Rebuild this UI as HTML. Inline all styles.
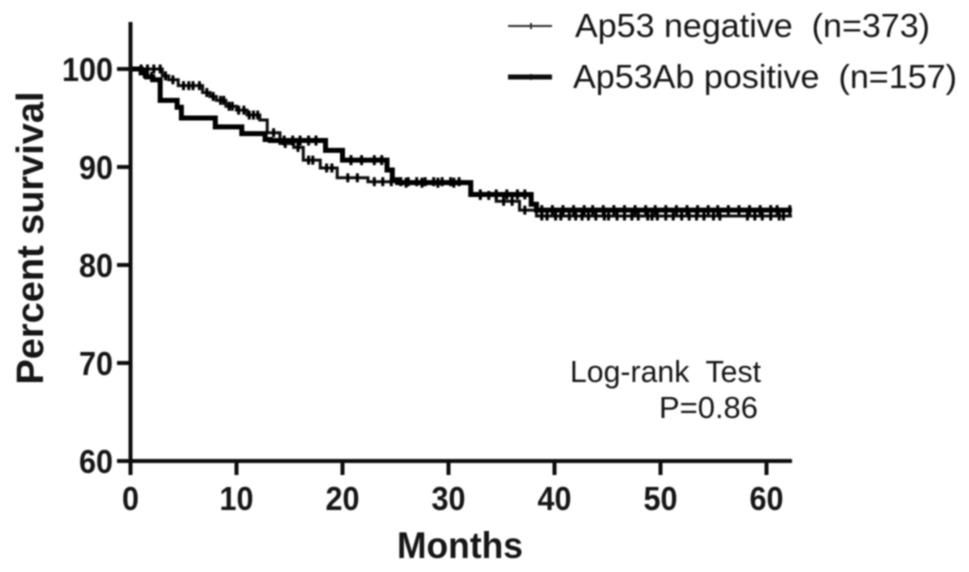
<!DOCTYPE html>
<html>
<head>
<meta charset="utf-8">
<title>Survival chart</title>
<style>
html,body{margin:0;padding:0;background:#fff;width:969px;height:572px;overflow:hidden}
svg{display:block}
text{font-family:"Liberation Sans",sans-serif;fill:#161616}
.b{font-weight:bold}
</style>
</head>
<body>
<svg id="chart" width="969" height="572" viewBox="0 0 969 572" xmlns="http://www.w3.org/2000/svg">
<defs><filter id="soft" x="-5%" y="-5%" width="110%" height="110%"><feGaussianBlur stdDeviation="0.8"/></filter></defs>
<g id="root" filter="url(#soft)">
<g id="marks"></g>
<g id="axes"></g>
<text class="b" x="460" y="558" font-size="37" text-anchor="middle" textLength="126" lengthAdjust="spacingAndGlyphs">Months</text>
<text class="b" transform="translate(43,238) rotate(-90)" font-size="38" text-anchor="middle" textLength="293" lengthAdjust="spacingAndGlyphs">Percent survival</text>
<g>
<line x1="508" y1="26" x2="552" y2="26" stroke="#333" stroke-width="2"/>
<line x1="531" y1="23" x2="531" y2="29" stroke="#333" stroke-width="2"/>
<text x="575" y="37" font-size="33" textLength="355" lengthAdjust="spacingAndGlyphs" xml:space="preserve">Ap53 negative  (n=373)</text>
<line x1="508" y1="77" x2="552" y2="77" stroke="#111" stroke-width="5"/>
<line x1="531" y1="74" x2="531" y2="80" stroke="#111" stroke-width="1.6"/>
<text x="573" y="88" font-size="33" textLength="384" lengthAdjust="spacingAndGlyphs" xml:space="preserve">Ap53Ab positive  (n=157)</text>
</g>
<text x="570" y="382" font-size="31" textLength="191" lengthAdjust="spacingAndGlyphs" xml:space="preserve">Log-rank  Test</text>
<text x="659" y="418" font-size="31" textLength="99" lengthAdjust="spacingAndGlyphs">P=0.86</text>
</g>
</svg>
<script>
const xTicks = [0, 10, 20, 30, 40, 50, 60];
const yTicks = [60, 70, 80, 90, 100];

const negTimes = [0, 3, 3.6, 4.5, 6.8, 7.5, 8.1, 9, 10, 11, 12.2, 12.9, 14.1, 15.4, 16.3, 17.9, 19.5, 22.4, 31.5, 32.1, 34.5, 36.7, 38.3, 62.4];
const negSurv  = [100, 99.3, 98.9, 98.3, 97.6, 97.2, 96.8, 96.2, 95.8, 95.3, 94.8, 93.5, 92.4, 92, 90.7, 89.9, 88.9, 88.5, 88.4, 87.1, 86.5, 85.6, 85, 85];
const negCensor = [1, 1.6, 2.2, 2.8, 3.3, 4, 5, 5.5, 5.9, 6.5, 7.2, 7.8, 8.5, 8.8, 9.3, 9.6, 10.2, 10.7, 11.2, 11.6, 12, 13.5, 14.6, 15.8, 16.8, 17.2, 18.5, 19, 20.5, 21.4, 23, 23.8, 24.6, 25.5, 26.2, 27, 27.8, 28.6, 29.4, 30.2, 31, 33, 33.8, 35.2, 36, 37.2, 38.8, 39.3, 40.1, 40.6, 41.4, 42, 42.6, 43.2, 43.9, 44.7, 45.1, 45.9, 46.6, 47.3, 47.9, 48.8, 49.2, 49.7, 50.5, 51.2, 52, 52.7, 53.4, 54.1, 55, 55.6, 58.2, 58.9, 59.6, 60.4, 61.2, 61.6];

const posTimes = [0, 1, 1.5, 2.1, 2.8, 4.4, 4.8, 8, 10.5, 12.7, 13.2, 18.4, 20, 24.2, 24.7, 25.2, 32.1, 37.8, 38.3, 62.4];
const posSurv  = [100, 99.6, 99.2, 98.9, 96.8, 96.1, 95, 94.1, 93.4, 92.8, 92.7, 91.7, 90.7, 89.7, 88.7, 88.4, 87.2, 86.2, 85.6, 85.6];
const posCensor = [1.3, 2, 14.5, 15.3, 16, 16.8, 17.5, 20.8, 21.8, 23, 23.7, 26, 27.5, 29, 30.5, 33, 34.5, 35.5, 36.5, 37.2, 38.8, 39.8, 40.8, 41.8, 42.8, 43.6, 44.6, 45.6, 46.6, 47.6, 48.6, 49.5, 50.5, 51.5, 52.5, 53.5, 54.5, 55.4, 56.4, 57.4, 58.4, 59.4, 60.4, 61, 62.2];

const sx = t => 130.5 + t * 10.6;
const sy = v => 69 + (100 - v) * 9.8;
const NS = 'http://www.w3.org/2000/svg';
const marks = document.getElementById('marks');
const axes = document.getElementById('axes');

function make(tag, attrs, parent) {
  const el = document.createElementNS(NS, tag);
  for (const k in attrs) el.setAttribute(k, attrs[k]);
  parent.appendChild(el);
  return el;
}
function survivalAt(times, surv, t) {
  let s = surv[0];
  for (let i = 0; i < times.length; i++) { if (times[i] <= t) s = surv[i]; }
  return s;
}
function stepPath(times, surv) {
  let d = 'M' + sx(times[0]) + ' ' + sy(surv[0]);
  for (let i = 1; i < times.length; i++) {
    d += 'H' + sx(times[i]) + 'V' + sy(surv[i]);
  }
  return d;
}

const negLine = make('path', {d: stepPath(negTimes, negSurv), fill: 'none', stroke: '#111', 'stroke-width': 3}, marks);


const posLine = make('path', {d: stepPath(posTimes, posSurv), fill: 'none', stroke: '#000', 'stroke-width': 5}, marks);



negCensor.forEach(t => {
  const y = sy(survivalAt(negTimes, negSurv, t));
  const m = make('line', {x1: sx(t), x2: sx(t), y1: y - 4.5, y2: y + 4.5, stroke: '#000', 'stroke-width': 3}, marks);
  
  
});
posCensor.forEach(t => {
  const y = sy(survivalAt(posTimes, posSurv, t));
  const m = make('line', {x1: sx(t), x2: sx(t), y1: y - 5, y2: y + 5, stroke: '#000', 'stroke-width': 3}, marks);
  
  
});

const yAxis = make('line', {x1: 130.5, x2: 130.5, y1: 22, y2: 475, stroke: '#111', 'stroke-width': 4}, axes);


const xAxis = make('line', {x1: 117, x2: 792, y1: 461, y2: 461, stroke: '#111', 'stroke-width': 4}, axes);



yTicks.forEach(v => {
  const t = make('line', {x1: 117, x2: 131, y1: sy(v), y2: sy(v), stroke: '#111', 'stroke-width': 4}, axes);
  
  
  const l = make('text', {x: 113, y: sy(v) + 12, 'font-size': 33, 'text-anchor': 'end', textLength: String(v).length * 17, lengthAdjust: 'spacingAndGlyphs', class: 'b'}, axes);
  
  
  l.textContent = v;
});
xTicks.forEach(v => {
  const t = make('line', {x1: sx(v), x2: sx(v), y1: 461, y2: 475, stroke: '#111', 'stroke-width': 4}, axes);
  
  
  const l = make('text', {x: sx(v), y: 510, 'font-size': 33, 'text-anchor': 'middle', textLength: String(v).length * 17, lengthAdjust: 'spacingAndGlyphs', class: 'b'}, axes);
  
  
  l.textContent = v;
});
</script>
</body>
</html>
